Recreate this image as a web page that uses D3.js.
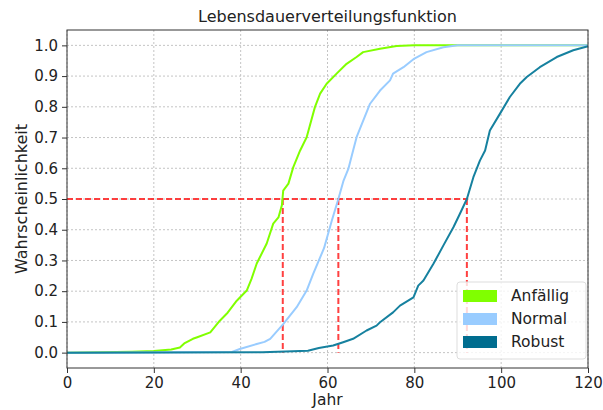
<!DOCTYPE html>
<html>
<head>
<meta charset="utf-8">
<script src="https://cdn.jsdelivr.net/npm/d3@7/dist/d3.min.js"></script>
<style>
  html, body { margin: 0; padding: 0; background: #fff; }
  svg { display: block; font-family: "DejaVu Sans", sans-serif; }
</style>
</head>
<body>
<svg id="chart" width="603" height="410"></svg>
<script>
// Empirical lifetime distribution functions (year, cumulative probability)
const anfaelligYears = [0, 15, 20, 24, 26, 27, 29, 30, 33, 35.2, 37, 39.1, 41.4, 42.5, 43.7, 46, 47.5, 48.7, 49.5, 49.8, 51, 52.1, 53.7, 55.2, 57.1, 58.3, 59.8, 62.1, 64.4, 66.7, 68.2, 72.1, 75.9, 80, 120];
const anfaelligProb  = [0, 0.003, 0.005, 0.01, 0.017, 0.03, 0.045, 0.05, 0.066, 0.104, 0.13, 0.169, 0.202, 0.24, 0.29, 0.355, 0.42, 0.44, 0.48, 0.527, 0.55, 0.603, 0.658, 0.701, 0.799, 0.843, 0.875, 0.908, 0.94, 0.962, 0.978, 0.989, 0.998, 1.0, 1.0];

const normalYears = [0, 38, 39.8, 43.7, 45.5, 46.8, 49.8, 52.9, 55.2, 56.7, 59.2, 61, 62.5, 63.7, 64.8, 65.9, 66.7, 69.8, 72.1, 74.4, 75.1, 77.5, 79.8, 82.8, 86.7, 90, 120];
const normalProb  = [0, 0.002, 0.012, 0.028, 0.035, 0.045, 0.093, 0.148, 0.202, 0.256, 0.34, 0.43, 0.5, 0.56, 0.598, 0.658, 0.701, 0.81, 0.853, 0.886, 0.908, 0.929, 0.955, 0.978, 0.994, 1.0, 1.0];

const robustYears = [0, 45, 55.5, 58, 61.3, 63.6, 65.9, 69, 71.3, 72.1, 75.1, 76.7, 79.8, 80.9, 82.1, 84.4, 86.7, 89, 90.5, 92.1, 93.6, 95.1, 96.3, 97.4, 99.7, 102, 104.3, 105.9, 108.9, 112.8, 116.6, 120];
const robustProb  = [0, 0.001, 0.006, 0.015, 0.023, 0.034, 0.045, 0.072, 0.088, 0.099, 0.131, 0.153, 0.18, 0.218, 0.235, 0.289, 0.349, 0.408, 0.452, 0.5, 0.571, 0.625, 0.658, 0.723, 0.777, 0.832, 0.875, 0.897, 0.929, 0.962, 0.984, 0.997];

// Median lifetime (probability 0.5) per class
const seriesNames = ["Anfällig", "Normal", "Robust"];
const medianYears = [49.7, 62.5, 92.1];
const medianLevel = 0.5;

const xTicks = [0, 20, 40, 60, 80, 100, 120];
const yTicks = [0, 0.1, 0.2, 0.3, 0.4, 0.5, 0.6, 0.7, 0.8, 0.9, 1.0];

const colors = ["#80ff00", "#99ccff", "#006d8f"];
const lineColors = ["#80ff00", "#99ccff", "#16819f"];

const series = [
  { name: seriesNames[0], x: anfaelligYears, y: anfaelligProb },
  { name: seriesNames[1], x: normalYears, y: normalProb },
  { name: seriesNames[2], x: robustYears, y: robustProb }
];

const W = 603, H = 410;
const m = { left: 67, right: 15, top: 30, bottom: 42 };
const iw = W - m.left - m.right, ih = H - m.top - m.bottom;

const svg = d3.select("#chart");
const g = svg.append("g").attr("transform", `translate(${m.left},${m.top})`);

const x = d3.scaleLinear().domain([0, 120]).range([0, iw]);
const y = d3.scaleLinear().domain([-0.05, 1.05]).range([ih, 0]);

// grid
g.append("g").selectAll("line").data(xTicks).join("line")
  .attr("x1", d => x(d)).attr("x2", d => x(d)).attr("y1", 0).attr("y2", ih)
  .attr("stroke", "#c4c4c4").attr("stroke-width", 1).attr("stroke-dasharray", "2,2");
g.append("g").selectAll("line").data(yTicks).join("line")
  .attr("y1", d => y(d)).attr("y2", d => y(d)).attr("x1", 0).attr("x2", iw)
  .attr("stroke", "#c4c4c4").attr("stroke-width", 1).attr("stroke-dasharray", "2,2");

// median guide lines
const red = "#ff2020";
g.append("line")
  .attr("x1", x(0)).attr("x2", x(d3.max(medianYears)))
  .attr("y1", y(medianLevel)).attr("y2", y(medianLevel))
  .attr("stroke", red).attr("stroke-width", 2).attr("stroke-dasharray", "6,3").attr("opacity", 0.85);
g.append("g").selectAll("line").data(medianYears).join("line")
  .attr("x1", d => x(d)).attr("x2", d => x(d))
  .attr("y1", y(medianLevel)).attr("y2", y(0))
  .attr("stroke", red).attr("stroke-width", 2).attr("stroke-dasharray", "6,3").attr("opacity", 0.85);

// curves
const line = d3.line().x(d => x(d[0])).y(d => y(d[1]));
series.forEach((s, i) => {
  g.append("path")
    .datum(s.x.map((v, k) => [v, s.y[k]]))
    .attr("fill", "none")
    .attr("stroke", lineColors[i])
    .attr("stroke-width", 2)
    .attr("stroke-linejoin", "round")
    .attr("d", line);
});

// axes
const xAxis = d3.axisBottom(x).tickValues(xTicks).tickSize(5).tickPadding(4).tickFormat(d3.format("d"));
const yAxis = d3.axisLeft(y).tickValues(yTicks).tickSize(5).tickPadding(4).tickFormat(d3.format(".1f"));
const gx = g.append("g").attr("transform", `translate(0,${ih})`).call(xAxis);
const gy = g.append("g").call(yAxis);
[gx, gy].forEach(a => {
  a.select(".domain").remove();
  a.selectAll("line").attr("stroke", "#333");
  a.selectAll("text").attr("fill", "#222").style("font-size", "15px").style("font-family", "DejaVu Sans, sans-serif");
});

// frame
g.append("rect").attr("x", 0).attr("y", 0).attr("width", iw).attr("height", ih)
  .attr("fill", "none").attr("stroke", "#333").attr("stroke-width", 1);

// legend
const lg = g.append("g").attr("transform", `translate(${457 - m.left},${282 - m.top})`);
lg.append("rect").attr("width", 129).attr("height", 77).attr("rx", 3)
  .attr("fill", "#fff").attr("fill-opacity", 0.8).attr("stroke", "#ddd");
seriesNames.forEach((n, i) => {
  const row = lg.append("g").attr("transform", `translate(6,${8 + i * 23})`);
  row.append("rect").attr("width", 34).attr("height", 12).attr("fill", colors[i]);
  row.append("text").attr("x", 48).attr("y", 11)
    .style("font-size", "15.5px").attr("fill", "#222").text(n);
});

// titles
svg.append("text").attr("x", m.left + iw / 2).attr("y", 22).attr("text-anchor", "middle")
  .style("font-size", "16px").attr("fill", "#222").text("Lebensdauerverteilungsfunktion");
svg.append("text").attr("x", m.left + iw / 2).attr("y", 405).attr("text-anchor", "middle")
  .style("font-size", "15.5px").attr("fill", "#222").text("Jahr");
svg.append("text").attr("transform", `translate(27,${m.top + y(0.5)}) rotate(-90)`)
  .attr("text-anchor", "middle").style("font-size", "16px").attr("fill", "#222").text("Wahrscheinlichkeit");
</script>
</body>
</html>
